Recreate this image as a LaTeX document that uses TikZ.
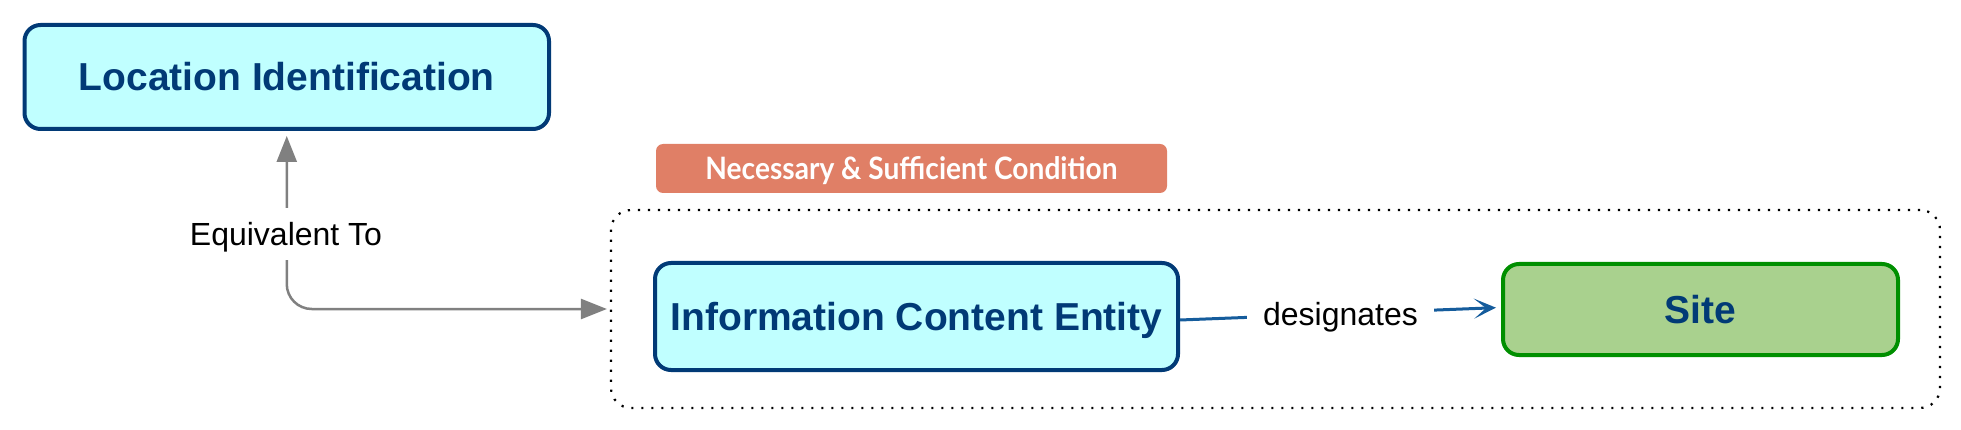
\documentclass[tikz,border=0pt]{standalone}
\usepackage{fontspec}
\usepackage{graphicx}
\setmainfont{Liberation Sans}
\newfontfamily\tagfont{Lato}
\usetikzlibrary{arrows.meta}
\definecolor{navy}{HTML}{013A76}
\definecolor{cyanfill}{HTML}{C0FFFF}
\definecolor{sitefill}{HTML}{A9D18E}
\definecolor{siteline}{HTML}{008F00}
\definecolor{tagfill}{HTML}{E07F66}
\definecolor{equivgray}{HTML}{808080}
\definecolor{relblue}{HTML}{155C9C}
\begin{document}
\begin{tikzpicture}[x=1pt,y=-1pt,
  classbox/.style={draw=navy, line width=4pt, fill=cyanfill, rounded corners=16pt,
    inner sep=0pt, text=navy, font=\fontsize{39}{46}\selectfont\bfseries,
    text height=27.9pt, text depth=0pt},
  sitebox/.style={classbox, draw=siteline, fill=sitefill},
  groupbox/.style={draw=black, line width=2.2pt, dash pattern=on 2.2pt off 7.8pt,
    rounded corners=20pt, inner sep=0pt},
  tagbox/.style={fill=tagfill, rounded corners=7pt, inner sep=0pt, text=white,
    text height=23pt, text depth=0pt},
  edgelabel/.style={fill=white, text=black, font=\fontsize{32}{38}\selectfont,
    text height=22.9pt, text depth=0pt, inner xsep=12pt, inner ysep=14.5pt},
  equiv/.style={draw=equivgray, line width=2.5pt, rounded corners=25pt,
    {Triangle[length=26pt,width=20pt]}-{Triangle[length=26pt,width=20pt]},
    shorten <=5pt, shorten >=3pt},
  rel/.style={draw=relblue, line width=3pt,
    -{Stealth[length=22pt,width=20pt,inset=12pt]}, shorten >=5pt}
]
\useasboundingbox (0,0) rectangle (1961,430);

\node[classbox, minimum width=524.5pt, minimum height=104pt] (loc) at (286.75,77) {Location Identification};
\node[tagbox, minimum width=511pt, minimum height=49pt] (tag) at (911.5,168.5)
  {\resizebox{412pt}{23pt}{\tagfont\bfseries Necessary \& Sufficient Condition}};
\node[groupbox, minimum width=1329pt, minimum height=198pt] (grp) at (1275.5,309) {};
\node[classbox, minimum width=523pt, minimum height=107pt] (ice) at (916.5,316.5) {Information Content Entity};
\node[sitebox, minimum width=395pt, minimum height=91pt] (site) at (1700.5,309.5) {Site};

\draw[equiv] (loc.south) |- (grp.west);
\node[edgelabel] (eqlbl) at (286,234) {Equivalent To};

\draw[rel] ([yshift=-3.5pt]ice.east) -- ([yshift=2pt]site.west)
  node[edgelabel, midway, inner xsep=16pt] (deslbl) {designates};
\end{tikzpicture}
\end{document}
